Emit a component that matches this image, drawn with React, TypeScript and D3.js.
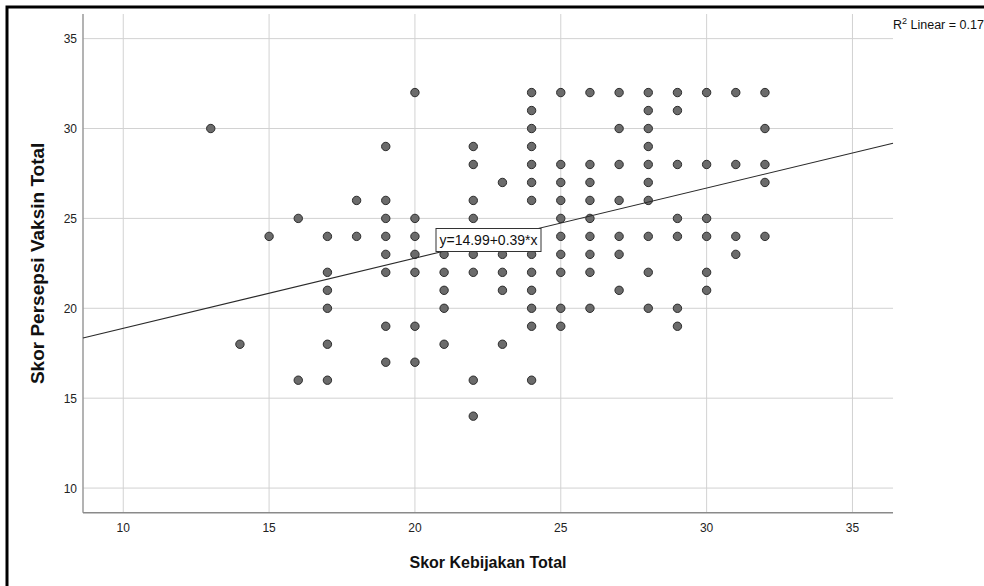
import React from "react";
import * as d3 from "d3";

// Skor Kebijakan Total (x) with the Skor Persepsi Vaksin Total values (y) observed at each x
const kebijakanValues = [13, 14, 15, 16, 17, 18, 19, 20, 21, 22, 23, 24, 25, 26, 27, 28, 29, 30, 31, 32];
const persepsiByKebijakan = [
  [30],
  [18],
  [24],
  [25, 16],
  [24, 22, 21, 20, 18, 16],
  [26, 24],
  [29, 26, 25, 24, 23, 22, 19, 17],
  [32, 25, 24, 23, 22, 19, 17],
  [23, 22, 21, 20, 18],
  [29, 28, 26, 25, 23, 22, 16, 14],
  [27, 23, 22, 21, 18],
  [32, 31, 30, 29, 28, 27, 26, 23, 22, 21, 20, 19, 16],
  [32, 28, 27, 26, 25, 24, 23, 22, 20, 19],
  [32, 28, 27, 26, 25, 24, 23, 22, 20],
  [32, 30, 28, 26, 24, 23, 21],
  [32, 31, 30, 29, 28, 27, 26, 24, 22, 20],
  [32, 31, 28, 25, 24, 20, 19],
  [32, 28, 25, 24, 22, 21],
  [32, 28, 24, 23],
  [32, 30, 28, 27, 24],
];

const xTicks = [10, 15, 20, 25, 30, 35];
const yTicks = [10, 15, 20, 25, 30, 35];
const xDomain = [8.62, 36.39];
const yDomain = [8.63, 36.37];
const fitIntercept = 14.99;
const fitSlope = 0.39;
const fitLabel = "y=14.99+0.39*x";
const r2Label = " Linear = 0.17";
const xTitle = "Skor Kebijakan Total";
const yTitle = "Skor Persepsi Vaksin Total";

const W = 984;
const H = 586;
const plot = { left: 83, right: 893, top: 14, bottom: 512.7 };
const FONT = "'Liberation Sans', Arial, sans-serif";

export default function App() {
  const x = d3.scaleLinear().domain(xDomain).range([plot.left, plot.right]);
  const y = d3.scaleLinear().domain(yDomain).range([plot.bottom, plot.top]);

  const points: { kx: number; py: number }[] = [];
  kebijakanValues.forEach((kx, i) => {
    persepsiByKebijakan[i].forEach((py) => points.push({ kx, py }));
  });

  const fit = d3
    .line<number>()
    .x((d) => x(d))
    .y((d) => y(fitIntercept + fitSlope * d));

  const labelX = 436;
  const labelY = 228.5;
  const labelW = 105;
  const labelH = 23;

  return (
    <div style={{ position: "absolute", left: 0, top: 0 }}>
      <svg width={W} height={H} style={{ display: "block", background: "#fff" }}>
        <rect x={0} y={0} width={W} height={H} fill="#fff" />
        {/* grid */}
        {xTicks.map((t) => (
          <line key={"gx" + t} x1={x(t)} x2={x(t)} y1={plot.top} y2={plot.bottom} stroke="#d2d2d2" strokeWidth={1} />
        ))}
        {yTicks.map((t) => (
          <line key={"gy" + t} x1={plot.left} x2={plot.right} y1={y(t)} y2={y(t)} stroke="#d2d2d2" strokeWidth={1} />
        ))}
        {/* axes */}
        <line x1={plot.left} x2={plot.left} y1={plot.top} y2={plot.bottom} stroke="#9a9a9a" strokeWidth={1.5} />
        <line x1={plot.left} x2={plot.right} y1={plot.bottom} y2={plot.bottom} stroke="#8a8a8a" strokeWidth={1.5} />
        {/* tick labels */}
        {yTicks.map((t) => (
          <text key={"ty" + t} x={77} y={y(t) + 4.5} textAnchor="end" fontFamily={FONT} fontSize={12} fill="#222">
            {t}
          </text>
        ))}
        {xTicks.map((t) => (
          <text key={"tx" + t} x={x(t)} y={531.5} textAnchor="middle" fontFamily={FONT} fontSize={12} fill="#222">
            {t}
          </text>
        ))}
        {/* points */}
        {points.map((p, i) => (
          <circle key={i} cx={x(p.kx)} cy={y(p.py)} r={4.2} fill="#6b6b6b" stroke="#2c2c2c" strokeWidth={1} />
        ))}
        {/* fit line */}
        <path d={fit(xDomain) || ""} fill="none" stroke="#2a2a2a" strokeWidth={1.1} />
        {/* fit label */}
        <rect x={labelX} y={labelY} width={labelW} height={labelH} fill="#fff" stroke="#333" strokeWidth={1} />
        <text x={labelX + labelW / 2} y={labelY + 16.5} textAnchor="middle" fontFamily={FONT} fontSize={14} fill="#111">
          {fitLabel}
        </text>
        {/* R2 */}
        <text x={893} y={29} fontFamily={FONT} fontSize={12.5} fill="#111">
          R<tspan dy={-5} fontSize={9}>2</tspan>
          <tspan dy={5}>{r2Label}</tspan>
        </text>
        {/* axis titles */}
        <text x={(plot.left + plot.right) / 2} y={568} textAnchor="middle" fontFamily={FONT} fontSize={16} fontWeight="bold" fill="#111">
          {xTitle}
        </text>
        <text
          transform={`translate(44, ${(plot.top + plot.bottom) / 2}) rotate(-90)`}
          textAnchor="middle"
          fontFamily={FONT}
          fontSize={19}
          fontWeight="bold"
          fill="#111"
        >
          {yTitle}
        </text>
        {/* outer frame */}
        <path d={`M7,${H} V7 H${W}`} fill="none" stroke="#000" strokeWidth={3} />
      </svg>
    </div>
  );
}
